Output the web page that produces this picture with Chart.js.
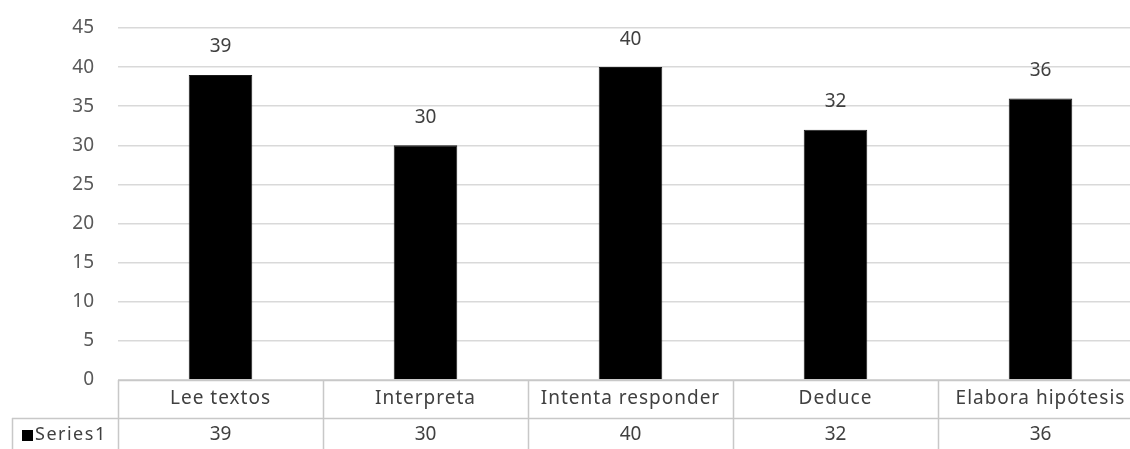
<!DOCTYPE html>
<html>
<head>
<meta charset="utf-8">
<script src="https://cdn.jsdelivr.net/npm/chart.js@4"></script>
<style>
    html, body { margin: 0; padding: 0; background: #fff; overflow: hidden; }
    #wrap { position: relative; width: 1143px; height: 449px; }
</style>
</head>
<body>
<div id="wrap"><canvas id="chart"></canvas></div>
<script>
// ---- Data ----
const categories = ['Lee textos', 'Interpreta', 'Intenta responder', 'Deduce', 'Elabora hipótesis'];
const seriesName = 'Series1';
const seriesValues = [39, 30, 40, 32, 36];
const yTicks = [0, 5, 10, 15, 20, 25, 30, 35, 40, 45];

const FONT = "'Noto Sans', 'Open Sans', sans-serif";
const TEXT = '#404040';
const LINE = '#c8c8c8';

// ---- Data labels above bars ----
const barLabels = {
    id: 'barLabels',
    afterDatasetsDraw(chart) {
        const ctx = chart.ctx;
        const meta = chart.getDatasetMeta(0);
        ctx.save();
        ctx.font = '19px ' + FONT;
        ctx.fillStyle = TEXT;
        ctx.textAlign = 'center';
        ctx.textBaseline = 'middle';
        meta.data.forEach((bar, i) => {
            ctx.fillText(String(seriesValues[i]), bar.x, bar.y - 28);
        });
        ctx.restore();
    }
};

// ---- Data table below the plot ----
const dataTable = {
    id: 'dataTable',
    afterDraw(chart) {
        const ctx = chart.ctx;
        const x = chart.scales.x;
        const area = chart.chartArea;
        const top = area.bottom;
        const mid = top + 38;
        const bottom = chart.height;
        const left = 12;
        const step = (area.right - area.left) / categories.length;

        ctx.save();
        ctx.strokeStyle = LINE;
        ctx.lineWidth = 1.5;
        ctx.beginPath();
        // top line of the table
        ctx.moveTo(area.left, top + 0.5);
        ctx.lineTo(area.right, top + 0.5);
        // row separator
        ctx.moveTo(left, mid + 0.5);
        ctx.lineTo(area.right, mid + 0.5);
        // legend cell left edge
        ctx.moveTo(left + 0.5, mid);
        ctx.lineTo(left + 0.5, bottom);
        // column lines
        for (let i = 0; i <= categories.length; i++) {
            const cx = Math.round(area.left + i * step) + 0.5;
            ctx.moveTo(cx, top);
            ctx.lineTo(cx, bottom);
        }
        ctx.stroke();

        ctx.font = '19px ' + FONT;
        ctx.fillStyle = TEXT;
        ctx.textAlign = 'center';
        ctx.textBaseline = 'middle';
        categories.forEach((c, i) => {
            const px = x.getPixelForValue(i);
            ctx.save();
            ctx.letterSpacing = '1px';
            ctx.fillText(c, px, top + 19);
            ctx.restore();
            ctx.fillText(String(seriesValues[i]), px, mid + 17);
        });

        // legend key
        ctx.fillStyle = '#000';
        ctx.fillRect(22, mid + 12, 11, 11);
        ctx.fillStyle = TEXT;
        ctx.textAlign = 'left';
        ctx.font = '18px ' + FONT;
        ctx.letterSpacing = '1.5px';
        ctx.fillText(seriesName, 35, mid + 17);
        ctx.restore();
    }
};

new Chart(document.getElementById('chart'), {
    type: 'bar',
    data: {
        labels: categories,
        datasets: [{
            label: seriesName,
            data: seriesValues,
            backgroundColor: '#000000',
            borderColor: '#1a1a1a',
            borderWidth: 1,
            categoryPercentage: 1,
            barPercentage: 0.31
        }]
    },
    options: {
        responsive: true,
        maintainAspectRatio: false,
        animation: false,
        layout: { padding: { top: 28, bottom: 69, left: 0, right: 0 } },
        plugins: {
            legend: { display: false },
            tooltip: { enabled: false }
        },
        scales: {
            x: {
                display: false,
                grid: { display: false }
            },
            y: {
                min: 0,
                max: 45,
                afterFit(axis) { axis.width = 118; },
                afterBuildTicks(axis) { axis.ticks = yTicks.map(v => ({ value: v })); },
                border: { display: false },
                // invisible tick marks push the labels away from the plot
                grid: { color: '#d9d9d9', drawTicks: true, tickLength: 24, tickColor: 'rgba(0,0,0,0)', lineWidth: 1.5 },
                ticks: {
                    color: '#595959',
                    font: { family: FONT, size: 19 },
                    padding: 0
                }
            }
        }
    },
    plugins: [barLabels, dataTable]
});
</script>
</body>
</html>
